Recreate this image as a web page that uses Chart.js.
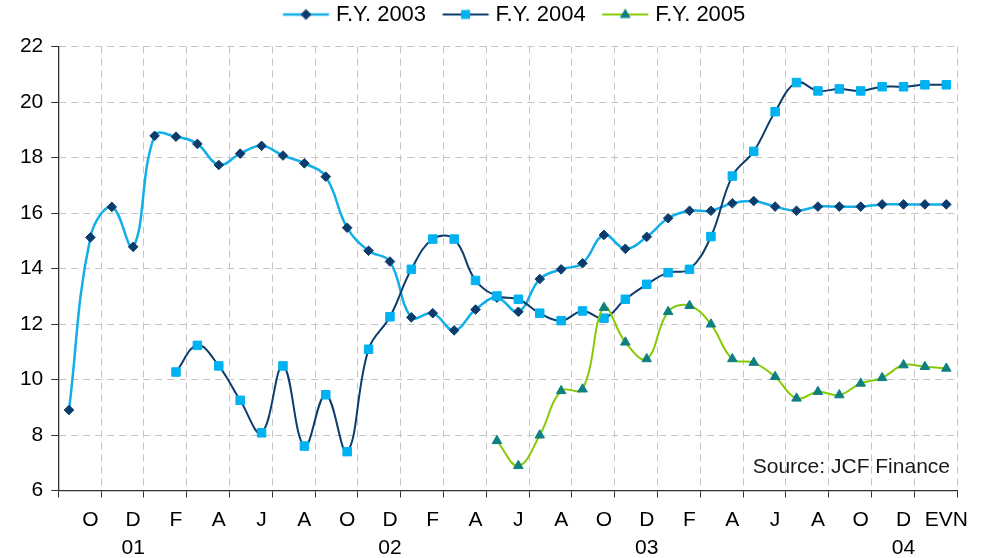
<!DOCTYPE html>
<html>
<head>
<meta charset="utf-8">
<script src="https://cdn.jsdelivr.net/npm/chart.js@4.4.0/dist/chart.umd.min.js"></script>
<style>
  body { margin: 0; background: #fff; }
</style>
</head>
<body>
<canvas id="chart" width="987" height="558"></canvas>
<script>
// months from Sep 2001, only every second one gets a label
const months = ['S','O','N','D','J','F','M','A','M','J','J','A',
                'S','O','N','D','J','F','M','A','M','J','J','A',
                'S','O','N','D','J','F','M','A','M','J','J','A',
                'S','O','N','D','J','EVN'];
const yearLabels = [[3, '01'], [15, '02'], [27, '03'], [39, '04']];

const fy2003 = [8.90, 15.12, 16.22, 14.78, 18.78, 18.75, 18.49, 17.73, 18.14, 18.42,
                18.07, 17.79, 17.31, 15.47, 14.64, 14.25, 12.24, 12.39, 11.77, 12.52,
                12.95, 12.44, 13.62, 13.97, 14.19, 15.21, 14.71, 15.14, 15.81, 16.08,
                16.08, 16.35, 16.43, 16.23, 16.08, 16.23, 16.23, 16.23, 16.31, 16.31,
                16.31, 16.31];
const fy2004 = [null, null, null, null, null,
                10.27, 11.23, 10.49, 9.25, 8.08, 10.49, 7.60, 9.45, 7.40, 11.09,
                12.26, 13.97, 15.06, 15.06, 13.57, 13.01, 12.89, 12.39, 12.12, 12.47,
                12.21, 12.89, 13.43, 13.85, 13.97, 15.15, 17.33, 18.22, 19.65, 20.70,
                20.40, 20.47, 20.40, 20.55, 20.55, 20.62, 20.62];
const fy2005 = [null, null, null, null, null, null, null, null, null, null,
                null, null, null, null, null, null, null, null, null, null,
                7.79, 6.89, 7.99, 9.59, 9.65, 12.59, 11.34, 10.74, 12.44, 12.66,
                11.99, 10.74, 10.61, 10.10, 9.32, 9.56, 9.44, 9.86, 10.06, 10.52,
                10.46, 10.40];

const LIGHT = '#12AEE8';
const NAVY = '#0B3C6C';
const GREEN = '#86CA06';
const TEAL = '#0E8080';
const FONT = 'Liberation Sans, Arial, sans-serif';

const labels = months.map((m, i) => {
    const y = yearLabels.find(p => p[0] === i);
    return y ? [m, y[1]] : m;
});

// little picture for the legend: line + marker
function legendPic(lineColor, lineWidth, marker, markerColor) {
    const c = document.createElement('canvas');
    c.width = 70; c.height = 16;
    const g = c.getContext('2d');
    g.strokeStyle = lineColor;
    g.lineWidth = lineWidth;
    g.beginPath(); g.moveTo(20.5, 8); g.lineTo(66.5, 8); g.stroke();
    const cx = 43.5, cy = 8;
    g.fillStyle = markerColor;
    g.beginPath();
    if (marker === 'diamond') {
        g.moveTo(cx, cy - 5.5); g.lineTo(cx + 5.5, cy); g.lineTo(cx, cy + 5.5); g.lineTo(cx - 5.5, cy);
    } else if (marker === 'square') {
        g.rect(cx - 4.5, cy - 4.5, 9, 9);
    } else {
        g.moveTo(cx, cy - 6); g.lineTo(cx + 5.5, cy + 3.5); g.lineTo(cx - 5.5, cy + 3.5);
    }
    g.closePath();
    g.fill();
    return c;
}

const everyOther = ctx => ctx.index === undefined || ctx.index % 2 === 0;

const sourceNote = {
    id: 'sourceNote',
    afterDatasetsDraw(chart) {
        const {ctx, chartArea} = chart;
        ctx.save();
        ctx.font = '21px ' + FONT;
        ctx.fillStyle = '#1a1a1a';
        ctx.textAlign = 'right';
        ctx.textBaseline = 'middle';
        ctx.fillText('Source: JCF Finance', chartArea.right - 7, chartArea.bottom - 23);
        ctx.restore();
    }
};

// extra room under the legend
const legendGap = {
    id: 'legendGap',
    beforeInit(chart) {
        const fit = chart.legend.fit;
        chart.legend.fit = function () {
            fit.bind(chart.legend)();
            this.height += 11;
        };
    }
};

new Chart(document.getElementById('chart'), {
    type: 'line',
    data: {
        labels: labels,
        datasets: [{
            label: 'F.Y. 2003',
            data: fy2003,
            borderColor: LIGHT,
            borderWidth: 2.5,
            pointStyle: 'rectRot',
            pointRadius: 4.8,
            pointBackgroundColor: NAVY,
            pointBorderColor: NAVY,
            pointBorderWidth: 1,
            tension: 0.4,
            order: 3
        }, {
            label: 'F.Y. 2004',
            data: fy2004,
            borderColor: NAVY,
            borderWidth: 2,
            pointStyle: 'rect',
            pointRadius: 6,
            pointBackgroundColor: '#00B2F0',
            pointBorderColor: '#00B2F0',
            pointBorderWidth: 1,
            tension: 0.4,
            order: 2
        }, {
            label: 'F.Y. 2005',
            data: fy2005,
            borderColor: GREEN,
            borderWidth: 2,
            pointStyle: 'triangle',
            pointRadius: 5.5,
            pointBackgroundColor: TEAL,
            pointBorderColor: TEAL,
            pointBorderWidth: 1,
            tension: 0.4,
            order: 1
        }]
    },
    options: {
        responsive: false,
        animation: false,
        events: [],
        devicePixelRatio: 1,
        layout: { padding: { top: 0, right: 30, bottom: 0, left: 0 } },
        plugins: {
            tooltip: { enabled: false },
            legend: {
                position: 'top',
                fullSize: false,
                labels: {
                    usePointStyle: true,
                    pointStyleWidth: 55,
                    padding: 3.5,
                    color: '#000',
                    font: { family: FONT, size: 22 },
                    generateLabels(chart) {
                        const pics = [
                            legendPic(LIGHT, 2.5, 'diamond', NAVY),
                            legendPic(NAVY, 2, 'square', '#00B2F0'),
                            legendPic(GREEN, 2, 'triangle', TEAL)
                        ];
                        return chart.data.datasets.map((ds, i) => ({
                            text: ds.label,
                            pointStyle: pics[i],
                            fontColor: '#000',
                            strokeStyle: 'transparent',
                            fillStyle: 'transparent',
                            lineWidth: 0,
                            datasetIndex: i,
                            hidden: false
                        }));
                    }
                }
            }
        },
        scales: {
            x: {
                offset: true,
                grid: {
                    offset: true,
                    color: ctx => everyOther(ctx) ? '#C4C4C4' : 'transparent',
                    tickColor: ctx => everyOther(ctx) ? '#333' : 'transparent',
                    tickLength: 7,
                    lineWidth: 1
                },
                border: { color: '#333', width: 1.3, dash: [7, 5] },
                ticks: {
                    autoSkip: false,
                    maxRotation: 0,
                    minRotation: 0,
                    padding: 8,
                    color: '#000',
                    font: { family: FONT, size: 21, lineHeight: 1.36 },
                    callback(v, i) { return i % 2 ? this.getLabelForValue(v) : ''; }
                },
                afterFit(scale) { scale.height = 67.5; }
            },
            y: {
                min: 6,
                max: 22,
                grid: { color: '#C4C4C4', tickColor: '#333', tickLength: 7 },
                border: { color: '#333', width: 1.3, dash: [7, 5] },
                ticks: {
                    stepSize: 2,
                    padding: 8,
                    color: '#000',
                    font: { family: FONT, size: 21 }
                },
                afterFit(scale) { scale.width = 58.3; }
            }
        }
    },
    plugins: [sourceNote, legendGap]
});
</script>
</body>
</html>
